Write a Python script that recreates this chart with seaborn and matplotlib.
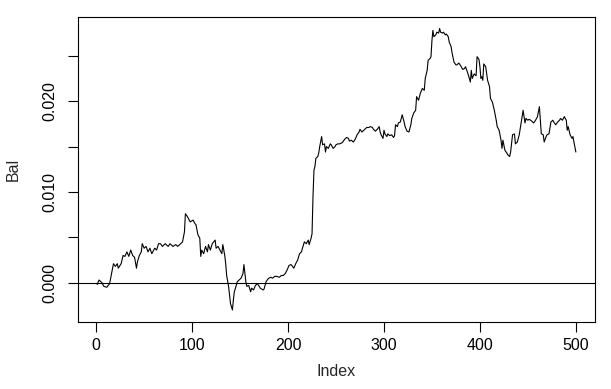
import matplotlib
matplotlib.use("Agg")
import matplotlib.pyplot as plt
import seaborn as sns
import pandas as pd

index = [1, 3, 6, 8, 11, 14, 16, 18, 20, 22, 23, 26, 28, 30, 32, 34, 36, 38, 40, 42,
         43, 45, 47, 48, 50, 52, 54, 56, 58, 61, 63, 65, 67, 69, 72, 75, 77, 80, 83, 85,
         88, 90, 92, 93, 95, 96, 98, 101, 103, 104, 106, 108, 109, 110, 112, 114, 116, 117, 119, 121,
         124, 125, 127, 129, 131, 132, 134, 135, 136, 138, 140, 142, 143, 144, 146, 147, 149, 151, 153, 154,
         156, 157, 159, 161, 162, 164, 166, 168, 170, 171, 174, 175, 177, 179, 180, 182, 184, 186, 188, 191,
         193, 195, 197, 199, 201, 203, 204, 206, 208, 210, 212, 214, 215, 217, 219, 221, 222, 224, 225, 226,
         227, 228, 229, 231, 232, 233, 235, 236, 238, 239, 240, 242, 244, 245, 247, 249, 250, 252, 254, 256,
         257, 259, 261, 263, 264, 266, 268, 270, 272, 274, 275, 277, 279, 281, 282, 284, 286, 288, 289, 291,
         293, 295, 296, 297, 299, 300, 301, 303, 304, 306, 308, 310, 311, 312, 314, 315, 317, 319, 321, 322,
         324, 326, 328, 329, 331, 333, 334, 336, 338, 340, 342, 343, 345, 346, 348, 349, 350, 351, 352, 354,
         355, 357, 358, 359, 361, 362, 364, 365, 367, 368, 370, 371, 373, 375, 376, 378, 380, 382, 384, 385,
         387, 389, 390, 391, 392, 394, 396, 397, 399, 400, 401, 402, 403, 404, 406, 408, 410, 411, 413, 415,
         417, 418, 420, 422, 423, 424, 426, 428, 429, 431, 432, 434, 436, 437, 439, 441, 443, 444, 445, 447,
         448, 450, 451, 453, 455, 456, 458, 460, 462, 463, 464, 466, 467, 469, 470, 472, 474, 476, 477, 479,
         481, 483, 484, 486, 488, 490, 491, 492, 494, 496, 497, 498, 500]

bal = [-0.0002, 0.0003, 0.0000, -0.0004, -0.0005, -0.0001, 0.0010, 0.0021, 0.0018, 0.0021,
       0.0016, 0.0021, 0.0030, 0.0029, 0.0034, 0.0029, 0.0036, 0.0030, 0.0028, 0.0016,
       0.0023, 0.0030, 0.0034, 0.0043, 0.0038, 0.0040, 0.0034, 0.0038, 0.0032, 0.0038,
       0.0036, 0.0043, 0.0043, 0.0040, 0.0043, 0.0040, 0.0043, 0.0040, 0.0042, 0.0040,
       0.0043, 0.0045, 0.0056, 0.0076, 0.0073, 0.0071, 0.0067, 0.0069, 0.0065, 0.0064,
       0.0053, 0.0049, 0.0029, 0.0036, 0.0032, 0.0040, 0.0034, 0.0042, 0.0036, 0.0043,
       0.0047, 0.0038, 0.0040, 0.0036, 0.0032, 0.0042, 0.0030, 0.0021, 0.0008, -0.0004,
       -0.0023, -0.0030, -0.0019, -0.0010, -0.0003, 0.0001, 0.0003, 0.0005, 0.0010, 0.0020,
       0.0001, -0.0004, -0.0003, -0.0010, -0.0006, -0.0008, -0.0003, -0.0001, -0.0004, -0.0006,
       -0.0008, -0.0007, 0.0001, 0.0004, 0.0005, 0.0006, 0.0005, 0.0007, 0.0007, 0.0006,
       0.0008, 0.0008, 0.0010, 0.0014, 0.0019, 0.0020, 0.0019, 0.0016, 0.0021, 0.0025,
       0.0032, 0.0034, 0.0038, 0.0045, 0.0043, 0.0047, 0.0042, 0.0049, 0.0054, 0.0095,
       0.0124, 0.0128, 0.0137, 0.0139, 0.0143, 0.0150, 0.0161, 0.0152, 0.0153, 0.0144,
       0.0150, 0.0148, 0.0153, 0.0152, 0.0148, 0.0150, 0.0152, 0.0153, 0.0153, 0.0154,
       0.0155, 0.0158, 0.0160, 0.0159, 0.0156, 0.0157, 0.0155, 0.0158, 0.0163, 0.0166,
       0.0169, 0.0166, 0.0168, 0.0170, 0.0171, 0.0171, 0.0172, 0.0171, 0.0169, 0.0167,
       0.0169, 0.0172, 0.0166, 0.0163, 0.0159, 0.0168, 0.0164, 0.0161, 0.0164, 0.0162,
       0.0163, 0.0160, 0.0162, 0.0174, 0.0172, 0.0176, 0.0177, 0.0185, 0.0177, 0.0172,
       0.0167, 0.0166, 0.0174, 0.0181, 0.0187, 0.0190, 0.0205, 0.0201, 0.0209, 0.0214,
       0.0212, 0.0225, 0.0234, 0.0245, 0.0247, 0.0249, 0.0267, 0.0278, 0.0271, 0.0273,
       0.0276, 0.0275, 0.0280, 0.0276, 0.0275, 0.0276, 0.0273, 0.0274, 0.0271, 0.0265,
       0.0260, 0.0253, 0.0243, 0.0240, 0.0240, 0.0242, 0.0239, 0.0235, 0.0236, 0.0238,
       0.0232, 0.0225, 0.0221, 0.0234, 0.0225, 0.0230, 0.0228, 0.0249, 0.0246, 0.0238,
       0.0225, 0.0227, 0.0223, 0.0241, 0.0238, 0.0223, 0.0216, 0.0203, 0.0199, 0.0190,
       0.0179, 0.0172, 0.0168, 0.0157, 0.0148, 0.0157, 0.0146, 0.0143, 0.0141, 0.0139,
       0.0144, 0.0163, 0.0164, 0.0153, 0.0155, 0.0163, 0.0176, 0.0183, 0.0190, 0.0176,
       0.0181, 0.0179, 0.0180, 0.0179, 0.0177, 0.0176, 0.0179, 0.0183, 0.0194, 0.0179,
       0.0164, 0.0163, 0.0155, 0.0161, 0.0163, 0.0164, 0.0177, 0.0179, 0.0177, 0.0174,
       0.0177, 0.0179, 0.0181, 0.0179, 0.0183, 0.0179, 0.0168, 0.0172, 0.0163, 0.0159,
       0.0161, 0.0155, 0.0144]

x_ticks = [0, 100, 200, 300, 400, 500]
y_ticks = [0.000, 0.005, 0.010, 0.015, 0.020, 0.025]
y_tick_labels = ["0.000", "", "0.010", "", "0.020", ""]

sns.set_style("ticks")
plt.rcParams['font.family'] = ['Liberation Sans', 'DejaVu Sans']

W, H = 611, 389
fig = plt.figure(figsize=(W / 100, H / 100), dpi=100)
ax = fig.add_axes([78 / W, 1 - 322.3 / H, (595 - 78) / W, (322.3 - 17.3) / H])

df = pd.DataFrame({"Index": index, "Bal": bal})
sns.lineplot(data=df, x="Index", y="Bal", ax=ax, color="black", linewidth=0.8,
             estimator=None, sort=False)
ax.axhline(0, color="black", linewidth=0.8)

ax.set_xlim(-18.96, 519.96)
ax.set_ylim(-0.00436, 0.02924)
ax.set_xticks(x_ticks)
ax.set_xticklabels([str(t) for t in x_ticks])
ax.set_yticks(y_ticks)
ax.set_yticklabels(y_tick_labels, rotation=90, va="center")

for s in ax.spines.values():
    s.set_visible(True)
    s.set_color("black")
    s.set_linewidth(0.8)

ax.tick_params(axis="both", direction="out", length=7.2, width=0.8, color="black",
               labelsize=11.5, labelcolor="black")
ax.tick_params(axis="x", pad=4)
ax.tick_params(axis="y", pad=8)
ax.set_xlabel("Index", fontsize=11.5, labelpad=8)
ax.set_ylabel("Bal", fontsize=11.5, labelpad=15)

fig.savefig("out.png", dpi=100)
